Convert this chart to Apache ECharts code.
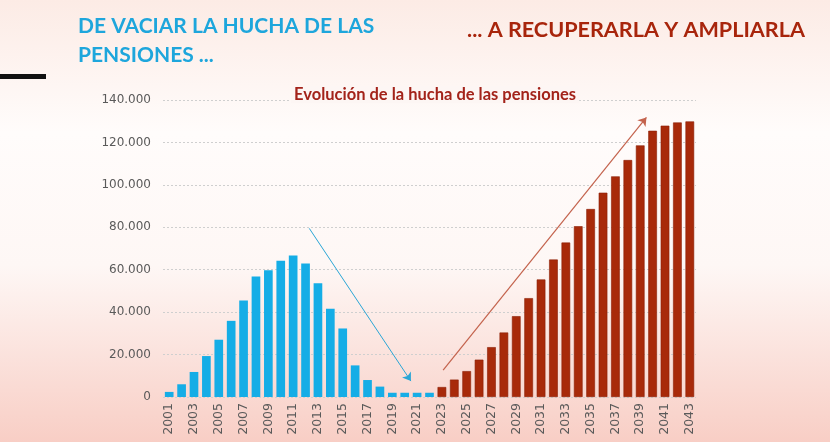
<!DOCTYPE html>
<html>
<head>
<meta charset="utf-8">
<script src="https://cdn.jsdelivr.net/npm/echarts@6/dist/echarts.min.js"></script>
<style>
  html, body { margin: 0; padding: 0; }
  #chart { width: 830px; height: 442px; }
</style>
</head>
<body>
<div id="chart"></div>
<script>
// years 2001..2043
const years = [];
for (let y = 2001; y <= 2043; y++) years.push(String(y));

// fund balance (millions of euros)
const vaciado = [2400, 6000, 11800, 19300, 27000, 35900, 45500, 56800, 59800, 64200,
    66700, 62900, 53600, 41600, 32300, 14900, 8000, 4900, 2000, 2000, 2000, 2000];
const recuperacion = [4700, 8200, 12200, 17600, 23500, 30400, 38100, 46600, 55400, 64800,
    72800, 80500, 88600, 96300, 104000, 111700, 118600, 125500, 127900, 129400, 129900];

// arrows, in [category index, value]
const blueArrow = [[11.3, 79500], [19.5, 7500]];
const redArrow = [[22.1, 12700], [38.5, 131800]];

const blueData = vaciado.concat(recuperacion.map(() => '-'));
const redData = vaciado.map(() => '-').concat(recuperacion);

const chart = echarts.init(document.getElementById('chart'));

const fmt = v => v === 0 ? '0' : String(v).replace(/\B(?=(\d{3})+(?!\d))/g, '.');

chart.setOption({
    animation: false,
    backgroundColor: new echarts.graphic.LinearGradient(0, 0, 0, 1, [
        {offset: 0, color: '#fcebe5'},
        {offset: 0.3, color: '#fffcfb'},
        {offset: 0.6, color: '#fef7f5'},
        {offset: 1, color: '#f8cec5'},
    ]),
    title: {
        text: 'Evolución de la hucha de las pensiones',
        left: 291,
        top: 86,
        backgroundColor: '#fdf6f4',
        padding: [0, 3],
        textStyle: {
            fontFamily: 'Lato',
            fontWeight: 'bold',
            fontSize: 16.5,
            color: '#a3231a',
        },
    },
    graphic: [
        {type: 'rect', shape: {x: 0, y: 74, width: 46, height: 5}, style: {fill: '#111'}},
        {type: 'text', left: 78, top: 12, style: {
            text: 'DE VACIAR LA HUCHA DE LAS\nPENSIONES ...',
            font: 'bold 21px Lato', fill: '#1ea6dc', lineHeight: 29}},
        {type: 'text', left: 467, top: 19, style: {
            text: '... A RECUPERARLA Y AMPLIARLA',
            font: 'bold 21.6px Lato', fill: '#a8250c'}},
    ],
    grid: {left: 163, right: 134, top: 100, bottom: 45, containLabel: false},
    xAxis: [{
        type: 'category',
        data: years,
        axisLine: {show: false},
        axisTick: {show: false},
        axisLabel: {
            rotate: 90,
            interval: 1,
            color: '#5a5a5a',
            fontSize: 12.5,
            fontFamily: 'DejaVu Sans',
            margin: 6,
        },
    }, {
        type: 'value',
        min: -0.5,
        max: 42.5,
        show: false,
    }],
    yAxis: {
        type: 'value',
        min: 0,
        max: 140000,
        interval: 20000,
        axisLine: {show: false},
        axisTick: {show: false},
        axisLabel: {
            color: '#5a5a5a',
            fontSize: 12,
            fontFamily: 'DejaVu Sans',
            margin: 12,
            formatter: fmt,
        },
        splitLine: {lineStyle: {color: '#cfcfcf', type: [2, 2], width: 1}},
    },
    series: [{
        name: 'vaciado',
        type: 'bar',
        data: blueData,
        barGap: '-100%',
        barCategoryGap: '30%',
        itemStyle: {color: '#15ade6'},
    }, {
        name: 'recuperacion',
        type: 'bar',
        data: redData,
        barCategoryGap: '30%',
        itemStyle: {color: '#a82a0a', borderColor: '#8c2006', borderWidth: 0.6},
    }, {
        name: 'flechas',
        type: 'line',
        xAxisIndex: 1,
        data: [],
        silent: true,
        markLine: {
            silent: true,
            symbol: ['none', 'arrow'],
            symbolSize: 8,
            label: {show: false},
            data: [
                [{coord: blueArrow[0], lineStyle: {color: '#2aa6d6', width: 1, type: 'solid'}},
                 {coord: blueArrow[1]}],
                [{coord: redArrow[0], lineStyle: {color: '#c4634d', width: 1.2, type: 'solid'}},
                 {coord: redArrow[1]}],
            ],
        },
    }],
});
</script>
</body>
</html>
